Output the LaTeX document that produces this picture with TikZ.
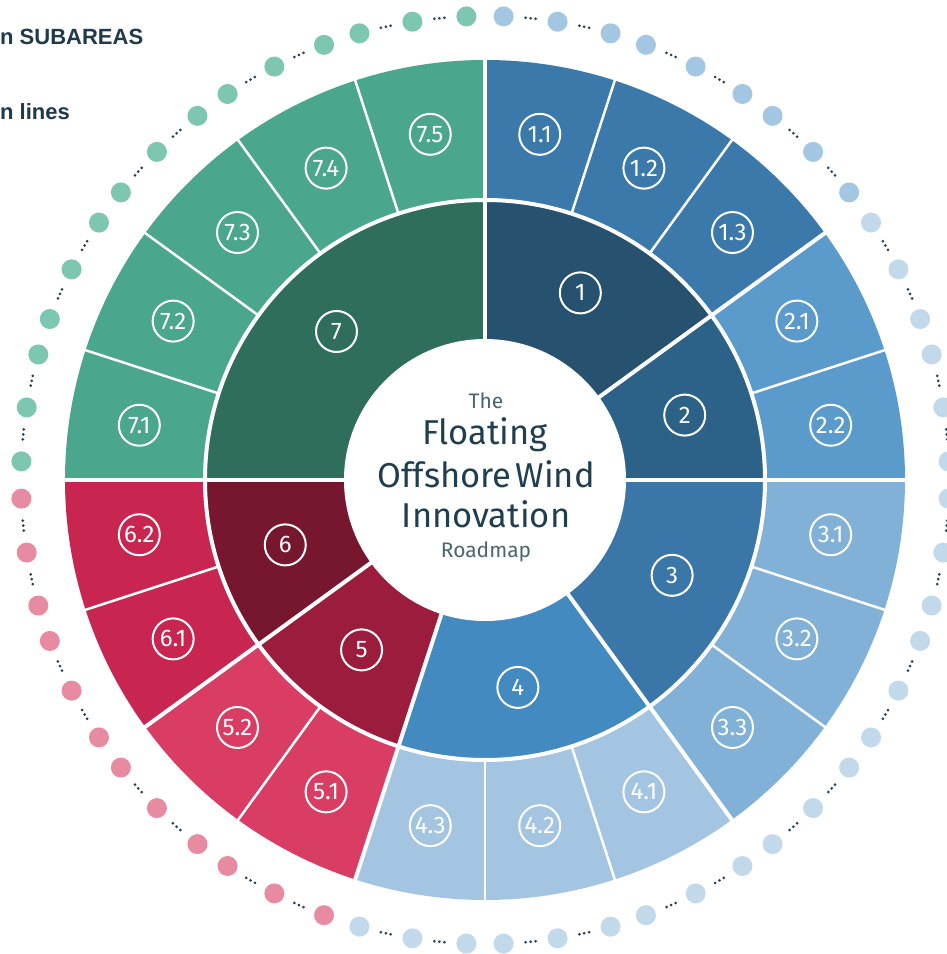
\documentclass[tikz,border=0pt]{standalone}
\usepackage{fontspec}
\setmainfont{Fira Sans}
\newfontfamily\legendfont{Liberation Sans}
\definecolor{inA}{HTML}{26526F}
\definecolor{inB}{HTML}{2C6188}
\definecolor{inC}{HTML}{3A77A8}
\definecolor{inD}{HTML}{438AC0}
\definecolor{inE}{HTML}{9B1C3D}
\definecolor{inF}{HTML}{76172F}
\definecolor{inG}{HTML}{2F6E5C}
\definecolor{outA}{HTML}{3A79AA}
\definecolor{outB}{HTML}{5B9BCB}
\definecolor{outC}{HTML}{81B1D6}
\definecolor{outD}{HTML}{A3C5E2}
\definecolor{outE}{HTML}{D93D64}
\definecolor{outF}{HTML}{C82650}
\definecolor{outG}{HTML}{4AA68D}
\definecolor{dotA}{HTML}{A3C6E2}
\definecolor{dotB}{HTML}{C2D9EC}
\definecolor{dotR}{HTML}{E68BA1}
\definecolor{dotG}{HTML}{7CC6B2}
\definecolor{ellC}{HTML}{2B4150}
\definecolor{titC}{HTML}{1F3F4E}
\definecolor{subC}{HTML}{4C6470}
\definecolor{legC}{HTML}{1F3A4A}
\tikzset{
  numlabel/.style={circle, draw=white, line width=2pt, minimum size=41pt, inner sep=0pt,
    text=white, font=\fontsize{24}{24}\selectfont},
  sepline/.style={white, line width=2.5pt},
  groupline/.style={white, line width=4pt},
  titletext/.style={anchor=base, inner sep=0pt, text=titC, font=\fontsize{34.5}{34.5}\selectfont},
  subtext/.style={anchor=base, inner sep=0pt, text=subC, font=\fontsize{21}{21}\selectfont},
  legendtext/.style={anchor=base west, inner sep=0pt, text=legC, font=\legendfont\bfseries\fontsize{22}{22}\selectfont}
}
\begin{document}
\begin{tikzpicture}[x=1pt,y=1pt]
\useasboundingbox (0,0) rectangle (947,954);
\clip (0,0) rectangle (947,954);
\fill[white] (0,0) rectangle (947,954);
\begin{scope}[shift={(485,474)}]
  % outer ring sectors (subareas)
  \foreach \i/\c in {0/outA,1/outA,2/outA,3/outB,4/outB,5/outC,6/outC,7/outC,8/outD,9/outD,10/outD,11/outE,12/outE,13/outF,14/outF,15/outG,16/outG,17/outG,18/outG,19/outG}{
    \pgfmathsetmacro\s{90-18*\i}
    \pgfmathsetmacro\e{72-18*\i}
    \fill[\c] (0,0) -- (\s:420pt) arc[start angle=\s, end angle=\e, radius=420pt] -- cycle;
  }
  % inner ring sectors (areas)
  \foreach \s/\e/\c in {90/36/inA, 36/0/inB, 0/-54/inC, -54/-108/inD, -108/-144/inE, -144/-180/inF, 180/90/inG}{
    \fill[\c] (0,0) -- (\s:280pt) arc[start angle=\s, end angle=\e, radius=280pt] -- cycle;
  }
  % separators
  \foreach \i in {0,...,19}{
    \draw[sepline] ({90-18*\i}:279pt) -- ({90-18*\i}:422pt);
  }
  \draw[groupline] (0,0) circle[radius=280pt];
  \foreach \a in {90,36,0,-54,-108,-144,180}{
    \draw[groupline] (\a:130pt) -- (\a:422pt);
  }
  \fill[white] (0,0) circle[radius=141pt];
  % subarea labels
  \foreach \i/\t/\n in {0/1.1/s11,1/1.2/s12,2/1.3/s13,3/2.1/s21,4/2.2/s22,5/3.1/s31,6/3.2/s32,7/3.3/s33,8/4.1/s41,9/4.2/s42,10/4.3/s43,11/5.1/s51,12/5.2/s52,13/6.1/s61,14/6.2/s62,15/7.1/s71,16/7.2/s72,17/7.3/s73,18/7.4/s74,19/7.5/s75}{
    \node[numlabel] (\n) at ({81-18*\i}:350pt) {\t};
  }
  % area labels
  \foreach \a/\t/\n in {63/1/a1, 18/2/a2, -27/3/a3, -81/4/a4, -126/5/a5, -162/6/a6, 135/7/a7}{
    \node[numlabel] (\n) at (\a:210pt) {\t};
  }
  % dots of the innovation lines
  \foreach \i/\d in {0/dotA,1/dotA,2/dotA,3/dotB,4/dotB,5/dotB,6/dotB,7/dotB,8/dotB,9/dotB,10/dotB,11/dotR,12/dotR,13/dotR,14/dotR,15/dotG,16/dotG,17/dotG,18/dotG,19/dotG}{
    \pgfmathsetmacro\a{90-18*\i}
    \foreach \o in {2.3,9,15.7}{
      \fill[\d] ({\a-\o}:464pt) circle[radius=10pt];
    }
    \foreach \o in {5.65,12.35}{
      \foreach \k in {-0.62,0,0.62}{
        \fill[ellC] ({\a-\o+\k}:464pt) circle[radius=1.5pt];
      }
    }
  }
\end{scope}
% title
\node[subtext] (tThe) at (486,545) {The};
\node[titletext] (tFloat) at (485,509) {Floating};
\node[titletext] (tOff) at (486,466) {Offshore\hspace{0.12em}Wind};
\node[titletext] (tInno) at (486,426) {Innovation};
\node[subtext] (tRoad) at (486,396) {Roadmap};
% legend (cut off at the left edge)
\node[legendtext] (leg1) at (0,909) {n SUBAREAS};
\node[legendtext] (leg2) at (0,834) {n lines};
\end{tikzpicture}
\end{document}
